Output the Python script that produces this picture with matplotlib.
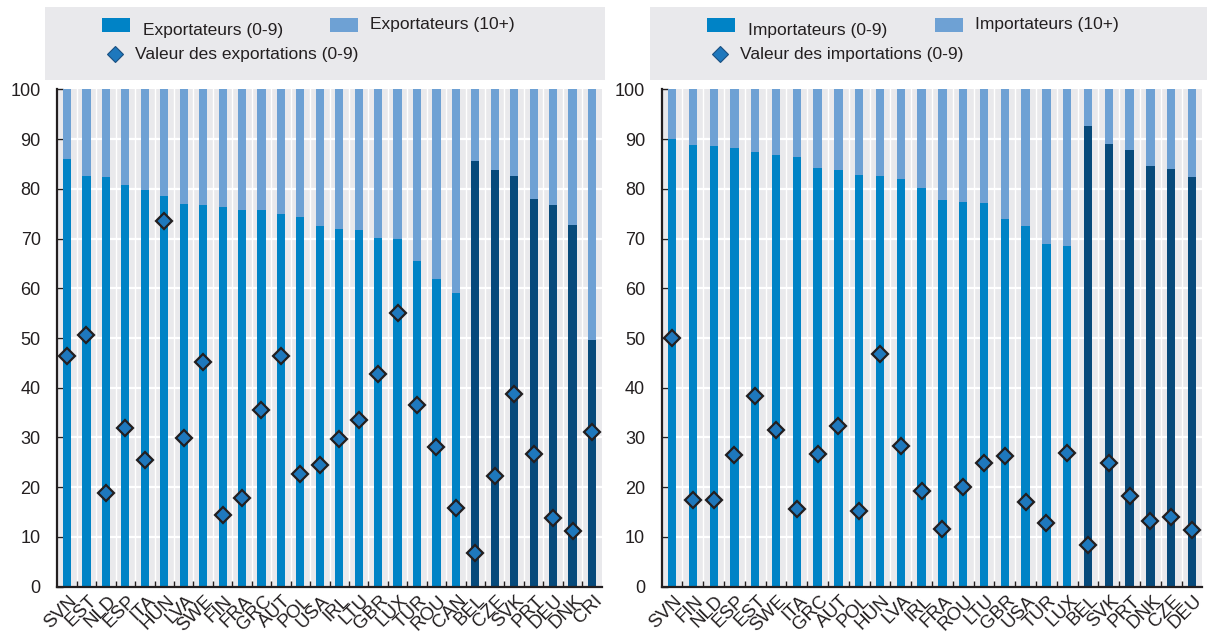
import numpy as np
import matplotlib.pyplot as plt
import matplotlib.transforms as mtrans
from matplotlib.patches import Rectangle
from matplotlib.lines import Line2D

plt.rcParams['font.family'] = ['Liberation Sans', 'DejaVu Sans']

# exporters panel
exp_countries = ['SVN', 'EST', 'NLD', 'ESP', 'ITA', 'HUN', 'LVA', 'SWE', 'FIN', 'FRA',
                 'GRC', 'AUT', 'POL', 'USA', 'IRL', 'LTU', 'GBR', 'LUX', 'TUR', 'ROU',
                 'CAN', 'BEL', 'CZE', 'SVK', 'PRT', 'DEU', 'DNK', 'CRI']
exp_small = [86.0, 82.6, 82.4, 80.8, 79.8, 78.6, 77.0, 76.8, 76.4, 75.8,
             75.8, 75.0, 74.3, 72.6, 72.0, 71.7, 70.1, 69.9, 65.5, 61.9,
             59.1, 85.6, 83.8, 82.6, 77.9, 76.8, 72.7, 49.7]
exp_value = [46.4, 50.6, 18.8, 32.0, 25.5, 73.6, 29.8, 45.2, 14.4, 17.9,
             35.6, 46.4, 22.7, 24.4, 29.7, 33.6, 42.7, 55.0, 36.6, 28.1,
             15.9, 6.8, 22.3, 38.7, 26.6, 13.7, 11.1, 31.1]
exp_dark = ['BEL', 'CZE', 'SVK', 'PRT', 'DEU', 'DNK', 'CRI']

# importers panel
imp_countries = ['SVN', 'FIN', 'NLD', 'ESP', 'EST', 'SWE', 'ITA', 'GRC', 'AUT', 'POL',
                 'HUN', 'LVA', 'IRL', 'FRA', 'ROU', 'LTU', 'GBR', 'USA', 'TUR', 'LUX',
                 'BEL', 'SVK', 'PRT', 'DNK', 'CZE', 'DEU']
imp_small = [90.0, 88.8, 88.6, 88.2, 87.4, 86.8, 86.4, 84.2, 83.8, 82.8,
             82.6, 82.0, 80.2, 77.8, 77.4, 77.2, 73.9, 72.5, 69.0, 68.5,
             92.6, 89.0, 87.9, 84.6, 84.0, 82.4]
imp_value = [50.1, 17.4, 17.5, 26.5, 38.4, 31.6, 15.6, 26.6, 32.4, 15.3,
             46.7, 28.3, 19.3, 11.6, 20.1, 24.9, 26.3, 17.1, 12.7, 26.8,
             8.4, 24.8, 18.2, 13.2, 14.0, 11.4]
imp_dark = ['BEL', 'SVK', 'PRT', 'DNK', 'CZE', 'DEU']

c_small = '#0083c6'
c_large = '#6ea1d4'
c_dark = '#074a7b'
c_diam = '#1e78bd'
c_bg = '#e9e9ec'
c_text = '#231f20'

fig = plt.figure(figsize=(12.07, 6.39), dpi=100)


def panel(ax, countries, small, value, dark, width):
    n = len(countries)
    x = np.arange(n)
    small = np.array(small)
    cols = [c_dark if c in dark else c_small for c in countries]
    ax.set_facecolor(c_bg)
    for y in range(10, 100, 10):
        ax.axhline(y, color='white', lw=1.6, zorder=0.5)
    for xi in x[:-1]:
        ax.axvline(xi + 0.5, color='white', lw=1.0, zorder=0.5)
    ax.bar(x, small, width=width, color=cols, zorder=2)
    ax.bar(x, 100 - small, bottom=small, width=width, color=c_large, zorder=2)
    ax.plot(x, value, ls='none', marker='D', ms=8.5, mfc=c_diam, mec=c_text,
            mew=1.6, zorder=3)
    ax.set_xlim(-0.5, n - 0.5)
    ax.set_ylim(0, 100)
    ax.set_yticks(range(0, 101, 10))
    ax.set_xticks(x)
    ax.set_xticklabels(countries, rotation=45, ha='right', va='top',
                       rotation_mode='anchor', fontsize=13.5, color=c_text)
    ax.set_xticks(x[:-1] + 0.5, minor=True)
    ax.tick_params(axis='x', which='major', length=0, pad=4)
    ax.tick_params(axis='x', which='minor', direction='in', length=4, width=1, color=c_text)
    ax.tick_params(axis='y', direction='in', length=4, width=1, color=c_text,
                   labelsize=13, labelcolor=c_text, pad=12)
    for s in ['top', 'right']:
        ax.spines[s].set_visible(False)
    for s in ['left', 'bottom']:
        ax.spines[s].set_color(c_text)
        ax.spines[s].set_linewidth(1.6)
    # shift tick labels a little right so they end under the bar
    off = mtrans.ScaledTranslation(1 / 72, 0, fig.dpi_scale_trans)
    for lab in ax.get_xticklabels():
        lab.set_transform(lab.get_transform() + off)


ax1 = fig.add_axes([0.0475, 0.082, 0.451, 0.778])
panel(ax1, exp_countries, exp_small, exp_value, exp_dark, 0.42)
ax2 = fig.add_axes([0.5482, 0.082, 0.448, 0.778])
panel(ax2, imp_countries, imp_small, imp_value, imp_dark, 0.4)


def legend_box(x0, lab1, lab2, lab3):
    W, H = 1207.0, 639.0
    fig.patches.append(Rectangle((x0 / W, 1 - 80 / H), 560 / W, 73 / H,
                                 transform=fig.transFigure, facecolor=c_bg,
                                 edgecolor='none', zorder=0))
    fig.patches.append(Rectangle(((x0 + 57) / W, 1 - 32 / H), 28 / W, 14 / H,
                                 transform=fig.transFigure, facecolor=c_small,
                                 edgecolor='none'))
    fig.text((x0 + 98) / W, 1 - 30 / H, lab1, fontsize=12.5, color=c_text, va='center')
    fig.patches.append(Rectangle(((x0 + 285) / W, 1 - 32 / H), 28 / W, 14 / H,
                                 transform=fig.transFigure, facecolor=c_large,
                                 edgecolor='none'))
    fig.text((x0 + 325) / W, 1 - 24 / H, lab2, fontsize=12.5, color=c_text, va='center')
    fig.lines.append(Line2D([(x0 + 70) / W], [1 - 54 / H], transform=fig.transFigure,
                            marker='D', ms=8, mfc=c_diam, mec='#1a4f80', mew=0.8, ls='none'))
    fig.text((x0 + 90) / W, 1 - 55 / H, lab3, fontsize=12.5, color=c_text, va='center')


legend_box(45, 'Exportateurs (0-9)', 'Exportateurs (10+)', 'Valeur des exportations (0-9)')
legend_box(650, 'Importateurs (0-9)', 'Importateurs (10+)', 'Valeur des importations (0-9)')

plt.savefig('out.png', dpi=100)
